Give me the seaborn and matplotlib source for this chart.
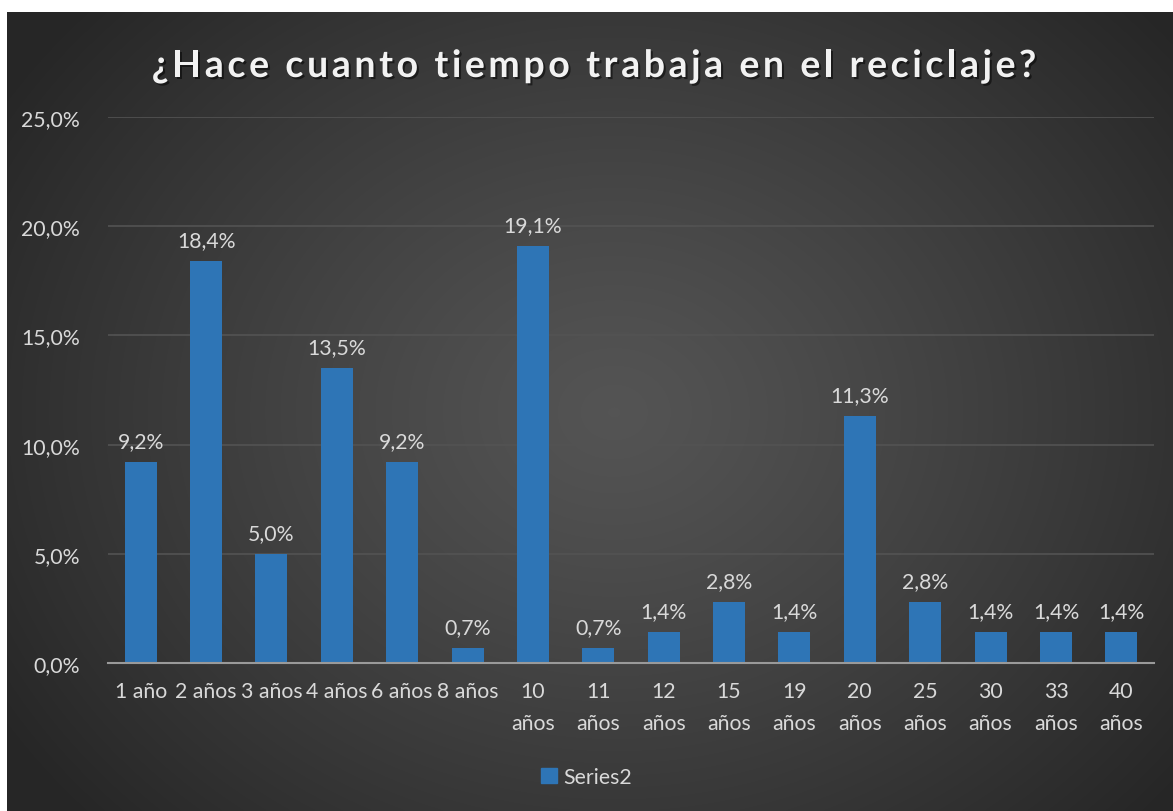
import numpy as np
import pandas as pd
import matplotlib
matplotlib.use("Agg")
import matplotlib.pyplot as plt
import matplotlib.patheffects as pe
from matplotlib.patches import Rectangle
import seaborn as sns

categories = ["1 año", "2 años", "3 años", "4 años", "6 años", "8 años",
              "10\naños", "11\naños", "12\naños", "15\naños", "19\naños",
              "20\naños", "25\naños", "30\naños", "33\naños", "40\naños"]
values = [9.2, 18.4, 5.0, 13.5, 9.2, 0.7, 19.1, 0.7, 1.4, 2.8, 1.4,
          11.3, 2.8, 1.4, 1.4, 1.4]
yticks = [0, 5, 10, 15, 20, 25]
title = "¿Hace cuanto tiempo trabaja en el reciclaje?"
series_name = "Series2"

sns.set_theme(style="dark")
plt.rcParams['font.family'] = ['Lato', 'DejaVu Sans']

W, H = 1173, 812
FS = 15.3
TXT = "#d9d9d9"
fig = plt.figure(figsize=(W / 100, H / 100), dpi=100)
fig.patch.set_facecolor("white")

# background with radial gradient
bg = fig.add_axes([7 / W, 0, 1 - 7 / W, 1 - 13 / H])
bg.set_axis_off()
ny, nx = 400, 580
yy, xx = np.mgrid[0:ny, 0:nx]
cx, cy = nx * 0.52, ny * 0.50
r = np.sqrt(((xx - cx) / (nx * 0.62)) ** 2 + ((yy - cy) / (ny * 0.75)) ** 2)
r = np.clip(r, 0, 1)
c0, c1 = 0.33, 0.15
g = c0 + (c1 - c0) * r ** 1.2
img = np.dstack([g, g, g])
bg.imshow(img, aspect="auto", extent=[0, 1, 0, 1], interpolation="bilinear")
bg.set_xlim(0, 1)
bg.set_ylim(0, 1)

ax = fig.add_axes([108 / W, 1 - 664 / H, (1154 - 108) / W, (664 - 118) / H])
ax.patch.set_alpha(0)

df = pd.DataFrame({"cat": categories, "val": values})
sns.barplot(data=df, x="cat", y="val", color="#2E75B6", width=0.49,
            saturation=1, ax=ax, edgecolor="none", legend=False)

ax.set_ylim(0, 25)
ax.set_yticks(yticks)
ax.set_yticklabels([f"{v:.1f}%".replace(".", ",") for v in yticks],
                   color=TXT, fontsize=FS)
ax.tick_params(axis="x", colors=TXT, labelsize=FS, length=0, pad=13)
ax.tick_params(axis="y", length=0, pad=20)
ax.set_xlabel("")
ax.set_ylabel("")
for lab in ax.get_xticklabels():
    lab.set_color(TXT)
    lab.set_linespacing(1.75)
ax.grid(axis="y", color="#535353", linewidth=1.2)
ax.grid(axis="x", visible=False)
ax.set_axisbelow(True)
for s in ["top", "right", "left"]:
    ax.spines[s].set_visible(False)
ax.spines["bottom"].set_color("#9a9a9a")
ax.spines["bottom"].set_linewidth(1.5)
ax.set_xlim(-0.5, len(categories) - 0.5)

for i, v in enumerate(values):
    ax.annotate(f"{v:.1f}%".replace(".", ","), (i, v), xytext=(0, 8),
                textcoords="offset points", ha="center", va="bottom",
                color=TXT, fontsize=FS)

# legend
ax.legend(handles=[Rectangle((0, 0), 1, 1, color="#2E75B6")],
          labels=[series_name], loc="center", bbox_to_anchor=(0.5, (812 - 778) / H),
          bbox_transform=fig.transFigure, frameon=False, fontsize=FS,
          labelcolor=TXT, handlelength=0.75, handleheight=0.75,
          handletextpad=0.3)

# title with letter spacing
renderer = fig.canvas.get_renderer()
fs = 27
spacing = 3.6
widths = []
texts = []
for ch in title:
    t = fig.text(0, 0, ch, fontsize=fs, fontweight="bold", color="#f2f2f2",
                 ha="left", va="center")
    widths.append(t.get_window_extent(renderer).width)
    texts.append(t)
total = sum(widths) + spacing * (len(title) - 1)
xpos = 594 - total / 2
for t, w in zip(texts, widths):
    t.set_position((xpos / W, 1 - 67 / H))
    t.set_path_effects([pe.SimplePatchShadow(offset=(1.5, -1.5), shadow_rgbFace="black", alpha=0.5), pe.Normal()])
    xpos += w + spacing

fig.savefig("out.png", dpi=100, facecolor=fig.get_facecolor())
